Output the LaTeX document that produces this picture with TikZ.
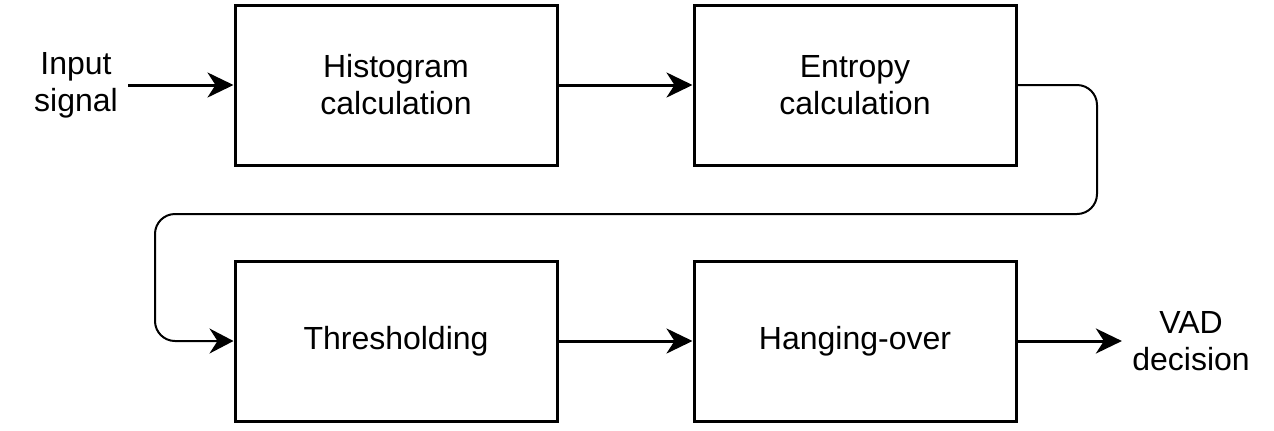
\documentclass[tikz,border=0pt]{standalone}
\usepackage{fontspec}
\setmainfont{Liberation Sans}
\usetikzlibrary{arrows.meta}
\begin{document}
\begin{tikzpicture}
[x=0.5pt,y=-0.5pt,
  blockdecorate/.style={shape=rectangle,draw,line width=1.5pt,
    minimum width=161pt,minimum height=80pt,align=center,
    font=\fontsize{16}{18.5}\selectfont},%
  textdecorate/.style={align=center,inner sep=5pt,
    font=\fontsize{16}{18.5}\selectfont},%
  arrowdecorate/.style={-{Stealth[length=13pt,width=12.5pt,inset=4pt]},line width=1.5pt},%
  loopdecorate/.style={-{Stealth[length=12pt,width=12.5pt,inset=4pt]},line width=1pt,
    rounded corners=10pt}]
\useasboundingbox (0,0) rectangle (1274,430);
%% blocks
\foreach \nodename/\x/\y/\caption in {
  hist/396/85/{Histogram\\calculation}, ent/855/85/{Entropy\\calculation},
  thr/396/341/{Thresholding}, hang/855/341/{Hanging-over}}
{
  \node (\nodename) at (\x,\y) [blockdecorate] {\caption};
}
%% input and output texts
\node (input) at (76,85) [textdecorate] {Input\\signal};
\node (vad) at (1191,341) [textdecorate] {VAD\\decision};
%% bends of the loop
\coordinate (bendne) at (1097,85);
\coordinate (bendse) at (1097,214);
\coordinate (bendsw) at (155,214);
\coordinate (bendw) at (155,341);
%% connectors
\path
\foreach \startnode/\endnode in {input/hist, hist/ent, thr/hang, hang/vad} {
  (\startnode) edge[arrowdecorate] (\endnode)
};
\draw[loopdecorate] (ent.east) -- (bendne) -- (bendse) -- (bendsw) -- (bendw) -- (thr.west);
\end{tikzpicture}
\end{document}
